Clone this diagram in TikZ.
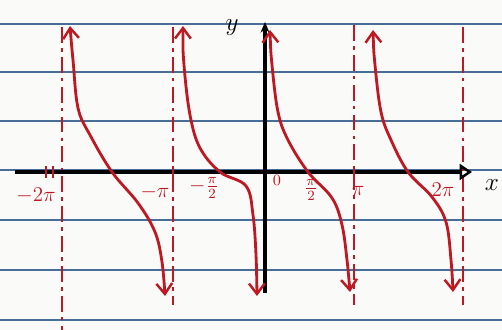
\documentclass[tikz,border=0pt]{standalone}
\usetikzlibrary{arrows.meta}
\definecolor{paper}{RGB}{250,250,248}
\definecolor{rule}{RGB}{70,110,150}
\definecolor{ink}{RGB}{190,25,35}
\begin{document}
\begin{tikzpicture}[x=0.02cm,y=-0.02cm,
  ruled/.style={rule,line width=0.9pt},
  asym/.style={ink,line width=1.1pt,dash pattern=on 9pt off 3pt on 2pt off 3pt},
  branch/.style={ink,line width=1.6pt,line cap=round,{Straight Barb[length=6pt,width=9pt,line width=1.4pt]}-{Straight Barb[length=6pt,width=9pt,line width=1.4pt]}},
  axis/.style={black,line width=1.8pt},
  lab/.style={ink,font=\large,inner sep=1pt},
  tick/.style={ink,line width=1pt}]
\fill[paper] (0,0) rectangle (502,330);
\useasboundingbox (0,0) rectangle (502,330);
% ruled lines
\foreach \yy in {24,72,121,170,220,270,320}
  \draw[ruled] (0,\yy) -- (502,\yy);
% asymptotes
\draw[asym] (62,27) -- (62,330);
\draw[asym] (173,27) -- (173,305);
\draw[asym] (354,25) -- (354,305);
\draw[asym] (463,27) -- (463,305);
% axes
\coordinate (xs) at (15,172); \coordinate (xe) at (472,172);
\coordinate (ys) at (265,293); \coordinate (ye) at (265,22);
\draw[axis,-{Triangle[open,length=7pt,width=9pt,line width=1.4pt]}] (xs) -- (xe);
\draw[axis,-{Stealth[length=6pt,width=5pt]}] (ys) -- (ye);
\node[font=\Large] (ylab) at (232,28) {$y$};
\node[font=\Large] (xlab) at (492,185) {$x$};
% ticks
\foreach \xx in {46,53,173,354} \draw[tick] (\xx,166) -- (\xx,178);
% branches
\draw[branch] plot[smooth,tension=0.6] coordinates {(70,26) (73,60) (78,108) (90,135) (112,172) (138,203) (155,232) (162,262) (165,296)};
\draw[branch] plot[smooth,tension=0.6] coordinates {(183,26) (184,65) (190,115) (200,148) (220,172) (246,186) (253,215) (256,255) (257,296)};
\draw[branch] plot[smooth,tension=0.6] coordinates {(270,30) (272,65) (278,112) (288,140) (308,172) (332,198) (342,225) (347,260) (350,292)};
\draw[branch] plot[smooth,tension=0.6] coordinates {(373,30) (375,65) (381,112) (391,140) (408,172) (432,197) (446,222) (451,260) (453,292)};
% labels
\node[lab] (l1) at (36,196) {$-2\pi$};
\node[lab] (l2) at (155,192) {$-\pi$};
\node[lab] (l3) at (204,188) {$-\frac{\pi}{2}$};
\node[lab,font=\small] (l4) at (277,180) {$0$};
\node[lab] (l5) at (311,190) {$\frac{\pi}{2}$};
\node[lab] (l6) at (358,191) {$\pi$};
\node[lab] (l7) at (443,190) {$2\pi$};
\end{tikzpicture}
\end{document}
